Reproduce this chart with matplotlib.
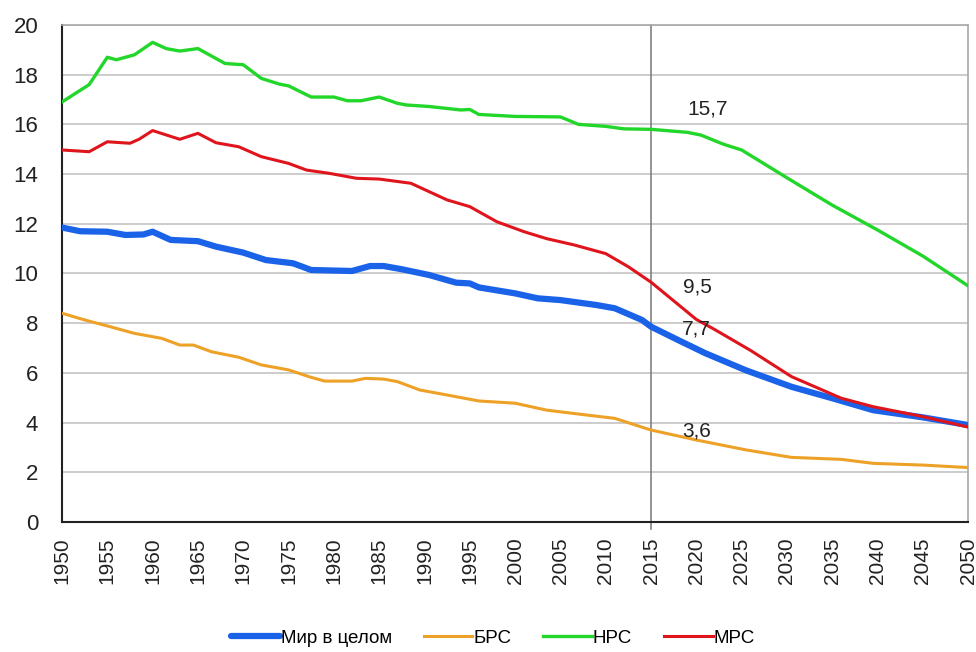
import matplotlib
matplotlib.use("Agg")
import matplotlib.pyplot as plt

plt.rcParams['font.family'] = ['Liberation Sans', 'DejaVu Sans']

# Мир в целом
years_world = [1950, 1952, 1955, 1957, 1959, 1960, 1962, 1965, 1967, 1970, 1972.5, 1975.5,
               1977.5, 1982, 1984, 1985.5, 1987.5, 1990.5, 1993.5, 1995, 1996, 2000, 2002.5,
               2005, 2009, 2011, 2014, 2015, 2018, 2021, 2025.5, 2030.5, 2035, 2039.5, 2045, 2050]
world = [11.85, 11.7, 11.68, 11.55, 11.57, 11.68, 11.35, 11.3, 11.08, 10.84, 10.54, 10.41,
         10.14, 10.1, 10.3, 10.3, 10.17, 9.94, 9.63, 9.6, 9.44, 9.2, 9.0,
         8.93, 8.73, 8.6, 8.13, 7.86, 7.32, 6.79, 6.1, 5.44, 4.98, 4.5, 4.21, 3.9]

# БРС
years_brs = [1950, 1952.5, 1955, 1958, 1961, 1963, 1964.5, 1966.5, 1969.5, 1972, 1975, 1977.5,
             1979, 1982, 1983.5, 1985.5, 1987, 1989.5, 1992.5, 1996, 2000, 2003.5, 2008, 2011,
             2015, 2020, 2025.5, 2030.5, 2036, 2039.5, 2045, 2050]
brs = [8.4, 8.13, 7.89, 7.59, 7.39, 7.12, 7.12, 6.85, 6.63, 6.32, 6.12, 5.82,
       5.67, 5.67, 5.78, 5.75, 5.65, 5.31, 5.11, 4.87, 4.78, 4.5, 4.3, 4.17,
       3.7, 3.3, 2.9, 2.6, 2.52, 2.36, 2.29, 2.19]

# НРС
years_nrs = [1950, 1953, 1955, 1956, 1958, 1960, 1961.5, 1963, 1965, 1967, 1968, 1970, 1972,
             1974, 1975, 1977.5, 1980, 1981.5, 1983, 1985, 1987, 1988, 1990.5, 1994, 1995,
             1996, 2000, 2005, 2007, 2010, 2012, 2015, 2019, 2020.5, 2023, 2025, 2030, 2035,
             2040, 2045, 2050]
nrs = [16.9, 17.6, 18.7, 18.6, 18.8, 19.3, 19.05, 18.95, 19.05, 18.65, 18.45, 18.4, 17.85,
       17.62, 17.55, 17.1, 17.1, 16.95, 16.95, 17.1, 16.85, 16.78, 16.72, 16.58, 16.6,
       16.4, 16.32, 16.3, 16.0, 15.92, 15.82, 15.8, 15.68, 15.57, 15.2, 14.97, 13.85, 12.75,
       11.75, 10.7, 9.5]

# МРС
years_mrs = [1950, 1953, 1955, 1957.5, 1958.5, 1960, 1963, 1965, 1967, 1969.5, 1972, 1975,
             1977, 1979.5, 1982.5, 1985, 1988.5, 1992.5, 1995, 1998, 2001, 2003.5, 2006.5,
             2010, 2012.5, 2015, 2017.5, 2020, 2022, 2026, 2030.5, 2036, 2039.5, 2045, 2050]
mrs = [14.97, 14.9, 15.3, 15.24, 15.4, 15.75, 15.4, 15.64, 15.26, 15.1, 14.7, 14.43,
       14.16, 14.03, 13.83, 13.8, 13.63, 12.96, 12.69, 12.08, 11.68, 11.4, 11.15,
       10.8, 10.27, 9.65, 8.9, 8.15, 7.75, 6.9, 5.85, 4.98, 4.64, 4.24, 3.82]

labels = ['Мир в целом', 'БРС', 'НРС', 'МРС']
annot_text = ['15,7', '9,5', '7,7', '3,6']
annot_x = [2021.2, 2020.1, 2020.0, 2020.0]
annot_y = [16.6, 9.45, 7.77, 3.66]

fig = plt.figure(figsize=(9.76, 6.52), dpi=100)
ax = fig.add_axes([0.0635, 0.1994, 0.9285, 0.7623])

ax.set_xlim(1950, 2050)
ax.set_ylim(0, 20)
ax.set_yticks(range(0, 21, 2))
ax.set_xticks(range(1950, 2051, 5))
ax.set_xticklabels([str(y) for y in range(1950, 2051, 5)], rotation=90)
ax.tick_params(axis='y', length=0, pad=17, labelsize=16, labelcolor='#222222')
ax.tick_params(axis='x', length=0, pad=11, labelsize=15, labelcolor='#222222')
ax.grid(axis='y', color='#c4c4c4', lw=1.2)
ax.set_axisbelow(True)

for s in ['top', 'right']:
    ax.spines[s].set_color('#a8a8a8')
    ax.spines[s].set_linewidth(1.2)
for s in ['left', 'bottom']:
    ax.spines[s].set_color('#222222')
    ax.spines[s].set_linewidth(1.5)

ax.axvline(2015, ymin=-0.014, ymax=1, color='#777777', lw=1.1, clip_on=False, zorder=1)

ax.plot(years_brs, brs, color='#eda126', lw=2.2, label=labels[1], zorder=3)
ax.plot(years_nrs, nrs, color='#22d62a', lw=2.4, label=labels[2], zorder=3)
ax.plot(years_mrs, mrs, color='#e0141c', lw=2.2, label=labels[3], zorder=4)
ax.plot(years_world, world, color='#1a62e8', lw=4.5, label=labels[0], zorder=3,
        solid_capstyle='round')

for t, x, y in zip(annot_text, annot_x, annot_y):
    ax.text(x, y, t, fontsize=15, ha='center', va='center', color='#222222', zorder=5)

handles, lbls = ax.get_legend_handles_labels()
order = [3, 0, 1, 2]
fig.legend([handles[i] for i in order], [lbls[i] for i in order], loc='lower center',
           bbox_to_anchor=(0.505, -0.018), ncol=4, frameon=False, fontsize=13.5,
           handlelength=2.6, handletextpad=0.05, columnspacing=1.7)

fig.savefig('out.png', dpi=100)
